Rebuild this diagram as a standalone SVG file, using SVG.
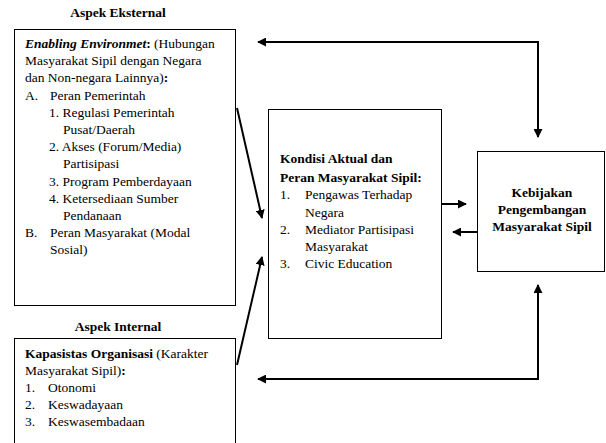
<svg xmlns="http://www.w3.org/2000/svg" width="606" height="443" viewBox="0 0 606 443">
<style>
text{font-family:"Liberation Serif","DejaVu Serif","Noto Serif","Times New Roman",serif;font-size:13.5px;fill:#000}
.b{font-weight:bold}
.box{fill:#fff;stroke:#000;stroke-width:1}
.c{fill:none;stroke:#000;stroke-width:2}
</style>
<defs>
<marker id="ah" viewBox="0 0 10 10" refX="9" refY="5" markerWidth="4.5" markerHeight="4.5" orient="auto-start-reverse" markerUnits="strokeWidth">
<path d="M0,0 L10,5 L0,10 z" fill="#000"/>
</marker>
</defs>
<rect width="606" height="443" fill="#fff"/>

<g id="external">
<text class="b" x="118" y="17" text-anchor="middle">Aspek Eksternal</text>
<rect class="box" x="14.5" y="29.5" width="221" height="276"/>
<text x="25" y="48"><tspan class="b" font-style="italic">Enabling Environmet</tspan><tspan class="b">:</tspan> (Hubungan</text>
<text x="25" y="65.2">Masyarakat Sipil dengan Negara</text>
<text x="25" y="82.4">dan Non-negara Lainnya)<tspan class="b">:</tspan></text>
<text x="25" y="99.6">A.</text><text x="50" y="99.6">Peran Pemerintah</text>
<text x="49" y="116.8">1. Regulasi Pemerintah</text>
<text x="63" y="134">Pusat/Daerah</text>
<text x="49" y="151.2">2. Akses (Forum/Media)</text>
<text x="63" y="168.4">Partisipasi</text>
<text x="49" y="185.6">3. Program Pemberdayaan</text>
<text x="49" y="202.8">4. Ketersediaan Sumber</text>
<text x="63" y="220">Pendanaan</text>
<text x="25" y="237.2">B.</text><text x="50" y="237.2">Peran Masyarakat (Modal</text>
<text x="50" y="254.4">Sosial)</text>
</g>

<g id="internal">
<text class="b" x="118" y="331" text-anchor="middle">Aspek Internal</text>
<rect class="box" x="14.5" y="338.5" width="221" height="110"/>
<text x="25" y="358"><tspan class="b">Kapasistas Organisasi</tspan> (Karakter</text>
<text x="25" y="375">Masyarakat Sipil)<tspan class="b">:</tspan></text>
<text x="25" y="392">1.</text><text x="48" y="392">Otonomi</text>
<text x="25" y="409">2.</text><text x="48" y="409">Keswadayaan</text>
<text x="25" y="426">3.</text><text x="48" y="426">Keswasembadaan</text>
</g>

<g id="kondisi">
<rect class="box" x="268.5" y="109.5" width="173" height="229"/>
<text class="b" x="280" y="163">Kondisi Aktual  dan</text>
<text class="b" x="280" y="182">Peran Masyarakat Sipil:</text>
<text x="280" y="199">1.</text><text x="305" y="199">Pengawas Terhadap</text>
<text x="305" y="216.5">Negara</text>
<text x="280" y="233.5">2.</text><text x="305" y="233.5">Mediator Partisipasi</text>
<text x="305" y="250.5">Masyarakat</text>
<text x="280" y="267.5">3.</text><text x="305" y="267.5">Civic Education</text>
</g>

<g id="kebijakan">
<rect class="box" x="477.5" y="151.5" width="127" height="120"/>
<text class="b" x="542" y="197" text-anchor="middle">Kebijakan</text>
<text class="b" x="542" y="214" text-anchor="middle">Pengembangan</text>
<text class="b" x="542" y="231" text-anchor="middle">Masyarakat Sipil</text>
</g>

<g id="connectors">
<path class="c" d="M538,137 L538,42 L258,42" marker-start="url(#ah)" marker-end="url(#ah)"/>
<path class="c" d="M538,285 L538,379 L258,379" marker-start="url(#ah)" marker-end="url(#ah)"/>
<path class="c" d="M442,204 L466,204" marker-end="url(#ah)"/>
<path class="c" d="M477,232 L453,232" marker-end="url(#ah)"/>
<path class="c" d="M237,108 L262,218" marker-end="url(#ah)"/>
<path class="c" d="M237,365 L262,257" marker-end="url(#ah)"/>
</g>
</svg>
